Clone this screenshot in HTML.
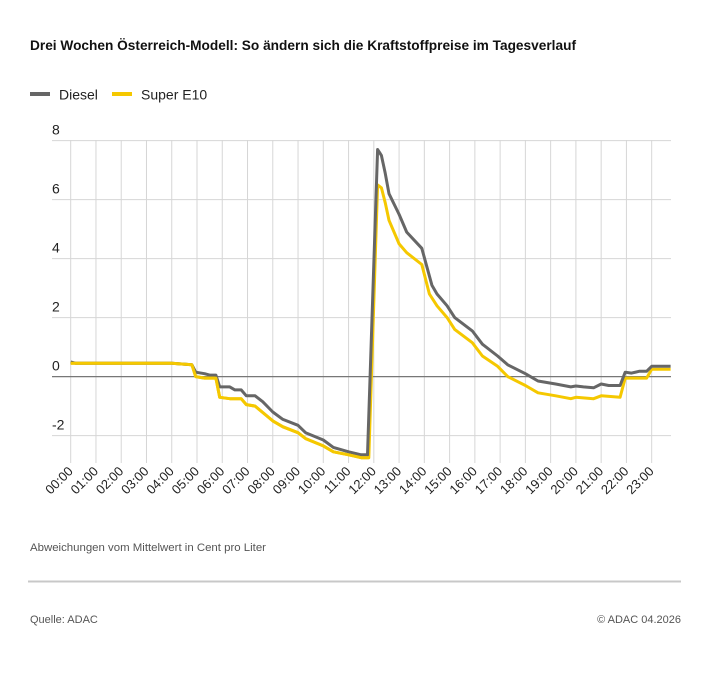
<!DOCTYPE html>
<html><head><meta charset="utf-8"><style>
html,body{margin:0;padding:0;background:#fff;}
svg{display:block;font-family:"Liberation Sans",sans-serif;}
</style></head><body>
<svg id="s" width="710" height="685" viewBox="0 0 710 685" xmlns="http://www.w3.org/2000/svg">
<text x="30" y="50" font-size="14" font-weight="bold" fill="#111" textLength="546" lengthAdjust="spacingAndGlyphs">Drei Wochen Österreich-Modell: So ändern sich die Kraftstoffpreise im Tagesverlauf</text>
<line x1="30" y1="94" x2="50" y2="94" stroke="#666" stroke-width="4"/>
<text x="59" y="99.5" font-size="14" fill="#222">Diesel</text>
<line x1="112" y1="94" x2="132" y2="94" stroke="#f5c800" stroke-width="4"/>
<text x="141" y="99.5" font-size="14" fill="#222">Super E10</text>
<g id="grid"></g>
<g id="lines"></g>
<text x="30" y="551" font-size="11" fill="#555" textLength="236" lengthAdjust="spacingAndGlyphs">Abweichungen vom Mittelwert in Cent pro Liter</text>
<line x1="28" y1="581.5" x2="681" y2="581.5" stroke="#c8c8c8" stroke-width="2"/>
<text x="30" y="623" font-size="11" fill="#555">Quelle: ADAC</text>
<text x="681" y="623" font-size="11" fill="#555" text-anchor="end">© ADAC 04.2026</text>
</svg>
<script>
var ns="http://www.w3.org/2000/svg";
function X(h){return 70.7+h*25.26;}
function Y(v){return 376.6-v*29.5;}
var g=document.getElementById("grid"),L=document.getElementById("lines");
function el(p,tag,a,txt){var e=document.createElementNS(ns,tag);for(var k in a)e.setAttribute(k,a[k]);if(txt)e.textContent=txt;p.appendChild(e);return e;}
for(var h=0;h<24;h++){el(g,"line",{x1:X(h),y1:140,x2:X(h),y2:463,stroke:"#d6d6d6","stroke-width":1});
var lab=(h<10?"0":"")+h+":00";var tx=X(h)+3,ty=472;
el(g,"text",{x:tx,y:ty,"font-size":13,fill:"#222","text-anchor":"end",transform:"rotate(-45 "+tx+" "+ty+")"},lab);}
[8,6,4,2,0,-2].forEach(function(v){el(g,"line",{x1:52,y1:Y(v),x2:671,y2:Y(v),stroke:v==0?"#777":"#d6d6d6","stroke-width":v==0?1.3:1});
el(g,"text",{x:52,y:Y(v)-6,"font-size":14,fill:"#222"},String(v));});
var d=[[0,0.5],[0.2,0.45],[4,0.45],[4.8,0.4],[4.95,0.15],[5.3,0.1],[5.5,0.05],[5.75,0.05],[5.9,-0.35],[6.3,-0.35],[6.5,-0.45],[6.75,-0.45],[6.95,-0.65],[7.3,-0.65],[7.6,-0.85],[8,-1.2],[8.4,-1.45],[9,-1.65],[9.3,-1.9],[10,-2.15],[10.4,-2.4],[11,-2.55],[11.5,-2.65],[11.75,-2.65],[12.15,7.7],[12.3,7.5],[12.45,6.9],[12.6,6.2],[13,5.5],[13.3,4.9],[13.9,4.35],[14.3,3.1],[14.5,2.8],[14.9,2.4],[15.2,2.0],[15.9,1.55],[16.3,1.1],[16.9,0.7],[17.3,0.4],[18,0.1],[18.5,-0.15],[19.2,-0.25],[19.8,-0.35],[20,-0.32],[20.3,-0.35],[20.7,-0.38],[21,-0.25],[21.3,-0.3],[21.75,-0.3],[21.95,0.15],[22.2,0.12],[22.5,0.18],[22.8,0.18],[23,0.35],[23.75,0.35]];
var s=[[0,0.45],[4,0.45],[4.8,0.4],[4.95,0.0],[5.3,-0.05],[5.75,-0.05],[5.9,-0.7],[6.3,-0.75],[6.75,-0.75],[6.95,-0.95],[7.3,-1.0],[8,-1.5],[8.4,-1.7],[9,-1.9],[9.3,-2.1],[10,-2.35],[10.4,-2.55],[11,-2.65],[11.5,-2.75],[11.8,-2.75],[12.15,6.5],[12.3,6.4],[12.45,5.9],[12.6,5.3],[13,4.5],[13.3,4.2],[13.9,3.8],[14.2,2.8],[14.5,2.4],[14.9,2.0],[15.2,1.6],[15.9,1.15],[16.3,0.7],[16.9,0.35],[17.3,0.0],[18,-0.3],[18.5,-0.55],[19.2,-0.65],[19.8,-0.75],[20,-0.7],[20.7,-0.75],[21,-0.65],[21.75,-0.7],[21.95,-0.05],[22.8,-0.05],[23,0.25],[23.75,0.25]];
function pts(a){return a.map(function(p){return X(p[0]).toFixed(1)+","+Y(p[1]).toFixed(1);}).join(" ");}
el(L,"polyline",{points:pts(s),fill:"none",stroke:"#f5c800","stroke-width":3,"stroke-linejoin":"round"});
el(L,"polyline",{points:pts(d),fill:"none",stroke:"#666","stroke-width":3,"stroke-linejoin":"round"});
el(L,"polyline",{points:pts(s.slice(0,20)),fill:"none",stroke:"#f5c800","stroke-width":3,"stroke-linejoin":"round"});
</script>
</body></html>
